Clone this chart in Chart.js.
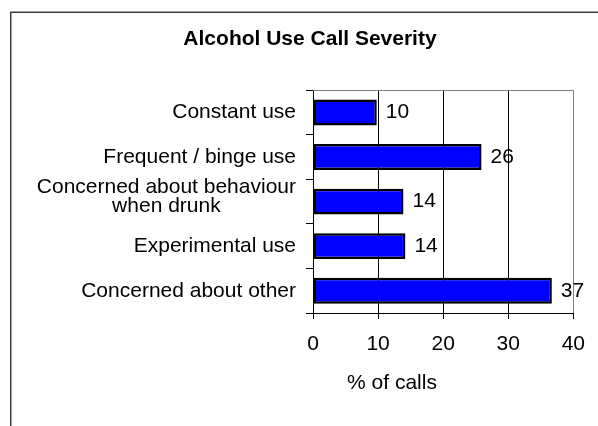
<!DOCTYPE html>
<html><head><meta charset="utf-8">
<script src="https://cdn.jsdelivr.net/npm/chart.js@4"></script>
<style>html,body{margin:0;padding:0;background:#fff;}</style>
</head><body>
<canvas id="c" width="598" height="426"></canvas>
<script>
const titleText = 'Alcohol Use Call Severity';
const axisTitle = '% of calls';
const categories = ['Constant use', 'Frequent / binge use', ['Concerned about behaviour', 'when drunk'], 'Experimental use', 'Concerned about other'];
const values = [9.8, 25.9, 13.9, 14.2, 36.7];
const valueLabels = ['10', '26', '14', '14', '37'];
const xTicks = [0, 10, 20, 30, 40];

const FONT = "'Liberation Sans', Arial, Helvetica, sans-serif";

const decor = {
  id: 'decor',
  beforeDraw(chart) {
    const ctx = chart.ctx;
    ctx.save();
    ctx.fillStyle = '#fff';
    ctx.fillRect(0, 0, chart.width, chart.height);
    ctx.strokeStyle = '#3c3c3c';
    ctx.lineWidth = 1.5;
    ctx.beginPath();
    ctx.moveTo(10.75, chart.height);
    ctx.lineTo(10.75, 12.25);
    ctx.lineTo(chart.width, 12.25);
    ctx.stroke();
    ctx.restore();
  },
  beforeDatasetsDraw(chart) {
    const ctx = chart.ctx, a = chart.chartArea;
    ctx.save();
    ctx.strokeStyle = '#808080';
    ctx.lineWidth = 1;
    ctx.beginPath();
    ctx.moveTo(a.left, Math.round(a.top) + 0.5);
    ctx.lineTo(a.right, Math.round(a.top) + 0.5);
    ctx.stroke();
    ctx.restore();
  },
  afterDraw(chart) {
    const ctx = chart.ctx;
    const ys = chart.scales.y;
    ctx.save();
    ctx.fillStyle = '#000';
    ctx.font = '21px ' + FONT;
    ctx.textBaseline = 'middle';
    // category labels
    const rightEdge = ys.right - 7 - 10;
    categories.forEach((lab, i) => {
      const lines = Array.isArray(lab) ? lab : [lab];
      const w = Math.max(...lines.map(l => ctx.measureText(l).width));
      const cy = ys.getPixelForValue(i) - (lines.length > 1 ? 5 : 0);
      const lh = 19.5;
      ctx.textAlign = 'center';
      lines.forEach((l, j) => {
        ctx.fillText(l, rightEdge - w / 2, cy + (j - (lines.length - 1) / 2) * lh);
      });
    });
    // value labels
    const meta = chart.getDatasetMeta(0);
    ctx.textAlign = 'left';
    meta.data.forEach((bar, i) => {
      ctx.fillText(valueLabels[i], bar.x + 9, bar.y);
    });
    // axis title
    ctx.textAlign = 'center';
    ctx.fillText(axisTitle, 392, 383);
    ctx.restore();
  }
};

new Chart(document.getElementById('c'), {
  type: 'bar',
  data: {
    labels: categories,
    datasets: [{
      data: values,
      backgroundColor: '#0000ff',
      borderColor: '#000000',
      borderWidth: 2.5,
      borderSkipped: false,
      barPercentage: 0.58,
      categoryPercentage: 1.0
    }]
  },
  options: {
    indexAxis: 'y',
    responsive: false,
    animation: false,
    devicePixelRatio: 1,
    layout: { padding: { left: 45, right: 23, top: 0, bottom: 0 } },
    plugins: {
      legend: { display: false },
      tooltip: { enabled: false },
      title: {
        display: true,
        text: titleText,
        color: '#000',
        font: { family: FONT, size: 21, weight: 'bold', lineHeight: 1.2 },
        padding: { top: 27, bottom: 38 }
      }
    },
    scales: {
      x: {
        min: 0, max: 40,
        afterBuildTicks(scale) { scale.ticks = xTicks.map(v => ({ value: v })); },
        afterFit(scale) { scale.height = 113; },
        grid: {
          color: ctx => (ctx.tick && ctx.tick.value === 40) ? '#808080' : '#000000',
          tickColor: '#000000',
          tickLength: 6,
          lineWidth: 1
        },
        border: { display: true, color: '#000000', width: 1 },
        ticks: { color: '#000', font: { family: FONT, size: 21 }, padding: 13, maxRotation: 0 }
      },
      y: {
        afterFit(scale) { scale.width = 268; },
        grid: { drawOnChartArea: false, color: '#000000', tickLength: 7, offset: true },
        border: { display: true, color: '#000000', width: 1 },
        ticks: { display: false }
      }
    }
  },
  plugins: [decor]
});
</script>
</body></html>
